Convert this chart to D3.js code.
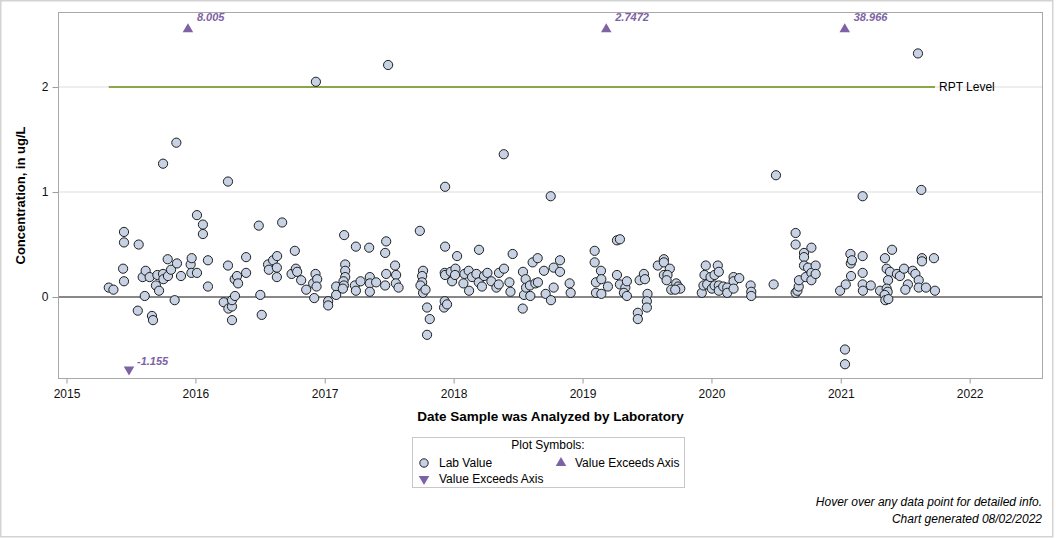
<!DOCTYPE html>
<html>
<head>
<meta charset="utf-8">
<script src="https://cdn.jsdelivr.net/npm/d3@7"></script>
<style>
  body { margin: 0; background: #fff; }
  svg { font-family: "Liberation Sans", Arial, sans-serif; }
</style>
</head>
<body>
<svg id="chart" width="1056" height="538"></svg>
<script>
// sample dates (decimal years) and lab values
var sampleYears = [
  // 2015
  2015.328, 2015.364, 2015.439, 2015.446, 2015.446, 2015.446, 2015.553, 2015.560, 2015.591, 2015.607,
  2015.614, 2015.645, 2015.663, 2015.671, 2015.694, 2015.705, 2015.718, 2015.749, 2015.749, 2015.752,
  2015.785, 2015.787, 2015.811, 2015.839, 2015.852, 2015.857, 2015.888, 2015.963, 2015.971, 2015.969,
  // 2016
  2016.012, 2016.012, 2016.058, 2016.058, 2016.097, 2016.097, 2016.219, 2016.252, 2016.252, 2016.255,
  2016.283, 2016.283, 2016.283, 2016.306, 2016.304, 2016.322, 2016.330, 2016.392, 2016.392, 2016.490,
  2016.502, 2016.513, 2016.562, 2016.568, 2016.601, 2016.632, 2016.630, 2016.630, 2016.671, 2016.744,
  2016.769, 2016.777, 2016.787, 2016.818, 2016.857, 2016.919, 2016.911, 2016.929, 2016.942, 2016.937,
  2016.932,
  // 2017
  2017.027, 2017.027, 2017.089, 2017.089, 2017.151, 2017.159, 2017.159, 2017.159, 2017.146, 2017.149,
  2017.141, 2017.242, 2017.234, 2017.242, 2017.278, 2017.345, 2017.350, 2017.350, 2017.350, 2017.399,
  2017.477, 2017.469, 2017.477, 2017.469, 2017.492, 2017.546, 2017.554, 2017.552, 2017.573, 2017.738,
  2017.763, 2017.756, 2017.756, 2017.743, 2017.763, 2017.782, 2017.794, 2017.815, 2017.794, 2017.926,
  2017.931, 2017.949, 2017.934, 2017.934, 2017.931, 2017.934, 2017.978, 2017.988,
  // 2018
  2018.014, 2018.011, 2018.027, 2018.076, 2018.084, 2018.117, 2018.143, 2018.120, 2018.177, 2018.197,
  2018.195, 2018.220, 2018.236, 2018.262, 2018.293, 2018.332, 2018.350, 2018.352, 2018.391, 2018.389,
  2018.433, 2018.441, 2018.458, 2018.538, 2018.536, 2018.546, 2018.559, 2018.562, 2018.592, 2018.595,
  2018.613, 2018.634, 2018.654, 2018.652, 2018.701, 2018.714, 2018.755, 2018.753, 2018.776, 2018.776,
  2018.825, 2018.825, 2018.900, 2018.908,
  // 2019
  2019.094, 2019.094, 2019.104, 2019.104, 2019.143, 2019.146, 2019.146, 2019.197, 2019.267, 2019.290,
  2019.267, 2019.290, 2019.332, 2019.344, 2019.321, 2019.344, 2019.443, 2019.476, 2019.484, 2019.504,
  2019.499, 2019.499, 2019.429, 2019.429, 2019.584, 2019.631, 2019.631, 2019.677, 2019.631, 2019.659,
  2019.652, 2019.688, 2019.727, 2019.742, 2019.758, 2019.719, 2019.925, 2019.938, 2019.946, 2019.956,
  2019.967, 2019.993,
  // 2020
  2020.003, 2020.024, 2020.049, 2020.057, 2020.024, 2020.057, 2020.057, 2020.091, 2020.122, 2020.122,
  2020.171, 2020.171, 2020.215, 2020.171, 2020.303, 2020.308, 2020.308, 2020.481, 2020.499, 2020.651,
  2020.651, 2020.651, 2020.665, 2020.675, 2020.677, 2020.716, 2020.716, 2020.716, 2020.729, 2020.747,
  2020.773, 2020.773, 2020.773, 2020.806, 2020.806, 2020.995,
  // 2021
  2021.039, 2021.033, 2021.033, 2021.080, 2021.078, 2021.075, 2021.087, 2021.170, 2021.170, 2021.170,
  2021.170, 2021.172, 2021.233, 2021.305, 2021.343, 2021.398, 2021.356, 2021.382, 2021.367, 2021.356,
  2021.364, 2021.341, 2021.346, 2021.369, 2021.436, 2021.459, 2021.491, 2021.558, 2021.579, 2021.605,
  2021.521, 2021.501, 2021.605, 2021.661, 2021.630, 2021.630, 2021.723, 2021.731, 2021.625, 2021.599
];
var labValues = [
  // 2015
  0.09, 0.07, 0.27, 0.62, 0.52, 0.15, -0.13, 0.50, 0.19, 0.01,
  0.25, 0.19, -0.18, -0.22, 0.11, 0.21, 0.06, 1.27, 0.22, 0.17,
  0.36, 0.20, 0.26, -0.03, 1.47, 0.32, 0.20, 0.31, 0.37, 0.23,
  // 2016
  0.78, 0.23, 0.69, 0.60, 0.35, 0.10, -0.05, 1.10, 0.30, -0.11,
  -0.09, -0.22, -0.03, 0.01, 0.17, 0.20, 0.13, 0.38, 0.23, 0.68,
  0.02, -0.17, 0.31, 0.26, 0.35, 0.39, 0.28, 0.19, 0.71, 0.22,
  0.44, 0.27, 0.24, 0.16, 0.07, -0.01, 0.13, 0.22, 0.17, 0.10,
  2.05,
  // 2017
  -0.04, -0.08, 0.10, 0.02, 0.59, 0.31, 0.25, 0.19, 0.15, 0.11,
  0.08, 0.48, 0.11, 0.06, 0.15, 0.47, 0.19, 0.13, 0.05, 0.14,
  0.53, 0.42, 0.22, 0.11, 2.21, 0.30, 0.21, 0.13, 0.09, 0.63,
  0.25, 0.20, 0.14, 0.11, 0.04, 0.07, -0.10, -0.21, -0.36, -0.10,
  -0.04, -0.07, 1.05, 0.48, 0.23, 0.21, 0.24, 0.15,
  // 2018
  0.27, 0.21, 0.39, 0.13, 0.22, 0.25, 0.19, 0.06, 0.22, 0.45,
  0.14, 0.10, 0.20, 0.23, 0.15, 0.09, 0.12, 0.23, 0.27, 1.36,
  0.14, 0.05, 0.41, 0.24, -0.11, 0.02, 0.17, 0.09, 0.11, 0.01,
  0.33, 0.13, 0.14, 0.37, 0.25, 0.03, -0.03, 0.96, 0.28, 0.09,
  0.35, 0.24, 0.13, 0.04,
  // 2019
  0.44, 0.33, 0.14, 0.04, 0.25, 0.17, 0.03, 0.10, 0.54, 0.55,
  0.21, 0.12, 0.09, 0.15, 0.04, 0.01, 0.16, 0.22, 0.17, 0.03,
  -0.04, -0.10, -0.15, -0.21, 0.30, 0.36, 0.33, 0.27, 0.21, 0.21,
  0.16, 0.07, 0.13, 0.10, 0.08, 0.07, 0.04, 0.11, 0.21, 0.30,
  0.12, 0.19,
  // 2020
  0.08, 0.21, 0.30, 0.24, 0.11, 0.11, 0.06, 0.10, 0.09, 0.04,
  0.19, 0.15, 0.18, 0.08, 0.11, 0.05, 0.01, 0.12, 1.16, 0.61,
  0.50, 0.04, 0.06, 0.10, 0.16, 0.42, 0.38, 0.30, 0.19, 0.28,
  0.47, 0.23, 0.16, 0.30, 0.22, 0.06,
  // 2021
  0.12, -0.50, -0.64, 0.20, 0.32, 0.41, 0.35, 0.96, 0.39, 0.23,
  0.12, 0.06, 0.11, 0.06, 0.37, 0.45, 0.27, 0.24, 0.16, 0.08,
  0.05, 0.02, -0.03, -0.02, 0.22, 0.20, 0.27, 0.25, 0.22, 0.16,
  0.12, 0.07, 0.09, 0.09, 0.37, 0.34, 0.37, 0.06, 1.02, 2.32
];

// values beyond the axis range, drawn as triangles at the edge
var aboveYears = [2015.942, 2019.184, 2021.031];
var aboveLabels = ["8.005", "2.7472", "38.966"];
var belowYears = [2015.485];
var belowLabels = ["-1.155"];

var yTicks = [0, 1, 2];
var rptLevel = 2;
var xDomainYears = [2014.938, 2022.565];
var yDomain = [-0.776, 2.71];

function toDate(y) {
  var yr = Math.floor(y);
  var a = new Date(yr, 0, 1), b = new Date(yr + 1, 0, 1);
  return new Date(+a + (y - yr) * (b - a));
}

var svg = d3.select("#chart");
var pLeft = 58.5, pTop = 12.5, pRight = 1042.5, pBottom = 378.5;

var x = d3.scaleTime().domain(xDomainYears.map(toDate)).range([pLeft, pRight]);
var y = d3.scaleLinear().domain(yDomain).range([pBottom, pTop]);

// outer border
svg.append("rect").attr("x", 0.75).attr("y", 0.75).attr("width", 1052).attr("height", 536)
  .attr("fill", "#fff").attr("stroke", "#d3d3d3").attr("stroke-width", 1.5);

// grid
svg.selectAll(".grid").data(yTicks).enter().append("line")
  .attr("x1", pLeft).attr("x2", pRight)
  .attr("y1", d => y(d)).attr("y2", d => y(d))
  .attr("stroke", "#e8e8e8").attr("stroke-width", 1.5);

// zero reference line
svg.append("line").attr("x1", pLeft).attr("x2", pRight)
  .attr("y1", y(0)).attr("y2", y(0))
  .attr("stroke", "#888").attr("stroke-width", 2);

// RPT level line spans the sampled period
var ext = d3.extent(sampleYears);
svg.append("line")
  .attr("x1", x(toDate(ext[0]))).attr("x2", x(toDate(ext[1])))
  .attr("y1", y(rptLevel)).attr("y2", y(rptLevel))
  .attr("stroke", "#8aa646").attr("stroke-width", 2);
svg.append("text").attr("x", x(toDate(ext[1])) + 4).attr("y", y(rptLevel)).attr("dy", "0.35em")
  .style("font-size", "12px").attr("fill", "#000").text("RPT Level");

// axes
var yAxisG = svg.append("g").attr("transform", "translate(" + pLeft + ",0)")
  .call(d3.axisLeft(y).tickValues(yTicks).tickSize(6).tickPadding(4).tickFormat(d3.format("d")));
var xAxisG = svg.append("g").attr("transform", "translate(0," + pBottom + ")")
  .call(d3.axisBottom(x).ticks(d3.timeYear.every(1)).tickFormat(d3.timeFormat("%Y")).tickSize(5).tickPadding(6));
[yAxisG, xAxisG].forEach(function (g) {
  g.select(".domain").remove();
  g.selectAll(".tick line").attr("stroke", "#9a9a9a");
  g.selectAll(".tick text").attr("fill", "#111").style("font-size", "12px")
    .style("font-family", "\"Liberation Sans\", Arial, sans-serif");
});

// lab values
svg.selectAll(".pt").data(sampleYears).enter().append("circle")
  .attr("cx", d => x(toDate(d)))
  .attr("cy", (d, i) => y(labValues[i]))
  .attr("r", 4.6)
  .attr("fill", "#c7d3e4").attr("stroke", "#1e1e1e").attr("stroke-width", 1);

// exceedance markers
var purple = "#7d62a4";
var tri = d3.symbol().type(d3.symbolTriangle).size(48);
var yAbove = yDomain[1] - 0.16, yBelow = yDomain[0] + 0.086;
aboveYears.forEach(function (d, i) {
  var px = x(toDate(d)), py = y(yAbove);
  svg.append("path").attr("d", tri).attr("fill", purple)
    .attr("transform", "translate(" + px + "," + py + ")");
  svg.append("text").attr("x", px + 9).attr("y", py - 8)
    .attr("fill", purple).style("font-size", "11px").style("font-weight", "bold").style("font-style", "italic")
    .text(aboveLabels[i]);
});
belowYears.forEach(function (d, i) {
  var px = x(toDate(d)), py = y(yBelow);
  svg.append("path").attr("d", tri).attr("fill", purple)
    .attr("transform", "translate(" + px + "," + py + ") rotate(180)");
  svg.append("text").attr("x", px + 8).attr("y", py - 4)
    .attr("fill", purple).style("font-size", "11px").style("font-weight", "bold").style("font-style", "italic")
    .text(belowLabels[i]);
});

// plot frame
svg.append("rect").attr("x", pLeft).attr("y", pTop).attr("width", pRight - pLeft).attr("height", pBottom - pTop)
  .attr("fill", "none").attr("stroke", "#a8a8a8").attr("stroke-width", 1);

// axis titles
svg.append("text").attr("transform", "translate(25," + ((pTop + pBottom) / 2) + ") rotate(-90)")
  .attr("text-anchor", "middle").style("font-size", "13px").style("font-weight", "bold")
  .text("Concentration, in ug/L");
svg.append("text").attr("x", (pLeft + pRight) / 2).attr("y", 421)
  .attr("text-anchor", "middle").style("font-size", "13.5px").style("font-weight", "bold")
  .text("Date Sample was Analyzed by Laboratory");

// legend
var lg = svg.append("g");
lg.append("rect").attr("x", 412.5).attr("y", 437.5).attr("width", 272).attr("height", 50)
  .attr("fill", "#fff").attr("stroke", "#c8c8c8");
lg.append("text").attr("x", 548).attr("y", 449).attr("text-anchor", "middle")
  .style("font-size", "12px").text("Plot Symbols:");
lg.append("circle").attr("cx", 424).attr("cy", 463).attr("r", 4.2)
  .attr("fill", "#c7d3e4").attr("stroke", "#1e1e1e");
lg.append("text").attr("x", 439).attr("y", 467).style("font-size", "12px").text("Lab Value");
lg.append("path").attr("d", tri).attr("fill", purple).attr("transform", "translate(561,463)");
lg.append("text").attr("x", 575).attr("y", 467).style("font-size", "12px").text("Value Exceeds Axis");
lg.append("path").attr("d", tri).attr("fill", purple).attr("transform", "translate(424,479) rotate(180)");
lg.append("text").attr("x", 439).attr("y", 483).style("font-size", "12px").text("Value Exceeds Axis");

// footer
svg.append("text").attr("x", 1042).attr("y", 506).attr("text-anchor", "end")
  .style("font-size", "12px").style("font-style", "italic").text("Hover over any data point for detailed info.");
svg.append("text").attr("x", 1042).attr("y", 523).attr("text-anchor", "end")
  .style("font-size", "12px").style("font-style", "italic").text("Chart generated 08/02/2022");
</script>
</body>
</html>
